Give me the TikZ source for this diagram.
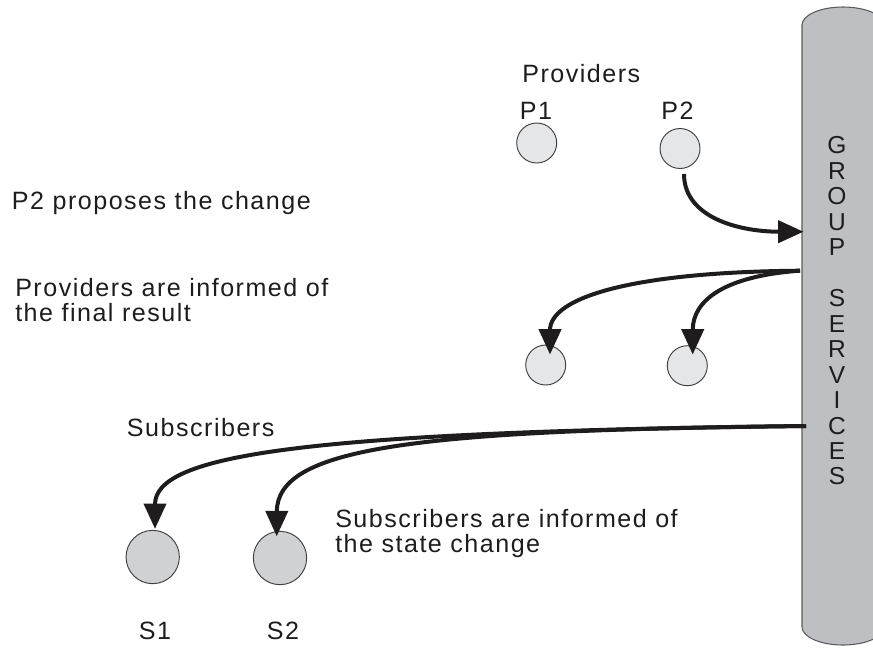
\documentclass[tikz,border=0pt]{standalone}
\usepackage{fontspec}
\setmainfont{Liberation Sans}[LetterSpace=6]
\usetikzlibrary{arrows.meta,calc}
\definecolor{cylfill}{RGB}{190,191,195}
\definecolor{cyledge}{RGB}{90,90,92}
\definecolor{pfill}{RGB}{229,230,232}
\definecolor{sfill}{RGB}{208,209,211}
\definecolor{ink}{RGB}{30,28,29}
\tikzset{
  lbl/.style={font=\fontsize{18.8pt}{18.75pt}\selectfont, inner sep=0pt, anchor=base west, align=left, text=ink},
  clbl/.style={font=\fontsize{18.8pt}{18.75pt}\selectfont, inner sep=0pt, anchor=base, text=ink},
  pcirc/.style={circle, draw=ink!85, line width=0.7pt, fill=pfill, minimum size=30pt, inner sep=0pt},
  scirc/.style={circle, draw=ink!85, line width=0.7pt, fill=sfill, minimum size=40pt, inner sep=0pt},
  flow/.style={draw=ink, line width=3pt, -{Triangle[length=19pt,width=16.5pt]}},
}
\begin{document}
\begin{tikzpicture}[x=0.75pt,y=-0.75pt]
\useasboundingbox (0,0) rectangle (873,647);
\clip (0,0) rectangle (873,647);
% group services cylinder
\fill[cylfill] (802,627) -- (802,25) arc[start angle=180,end angle=360,x radius=41,y radius=18] -- (884,627) arc[start angle=0,end angle=180,x radius=41,y radius=18] -- cycle;
\draw[cyledge,line width=0.8pt] (802,627) -- (802,25) arc[start angle=180,end angle=360,x radius=41,y radius=18] -- (884,627) arc[start angle=0,end angle=180,x radius=41,y radius=18] -- cycle;
\node[font=\fontsize{18.4pt}{19.1pt}\selectfont, align=center, inner sep=0pt, text=ink] (gs) at (837,311) {G\\R\\O\\U\\P\\[19.1pt]S\\E\\R\\V\\I\\C\\E\\S};
\coordinate (gsin) at (803.5,231.7);
\coordinate (gsout1) at (800,270.7);
\coordinate (gsout2) at (806,426);

% texts (base anchor of a two-line node is the baseline of its last line)
\node[lbl] (provt) at (522,82) {Providers};
\node[clbl] (p1l) at (536,119.5) {P1};
\node[clbl] (p2l) at (677.5,119.5) {P2};
\node[lbl] (prop) at (11.7,209.3) {P2 proposes the change};
\node[lbl] (inf1) at (15,321.5) {Providers are informed of\\the final result};
\node[lbl] (subt) at (126.7,436) {Subscribers};
\node[lbl] (inf2) at (335,552) {Subscribers are informed of\\the state change};
\node[clbl] (s1l) at (155,639) {S1};
\node[clbl] (s2l) at (283,639) {S2};

% circles
\node[pcirc] (p1) at (536.7,143) {};
\node[pcirc] (p2) at (680,148.5) {};
\node[pcirc] (q1) at (545.7,365) {};
\node[pcirc] (q2) at (687.3,365.7) {};
\node[scirc] (s1) at (152.7,557) {};
\node[scirc] (s2) at (280,558) {};

% connectors
\draw[flow] ($(p2.south)+(4,5)$) .. controls (684,218) and (740,231.7) .. (gsin);
\draw[flow] (gsout1) .. controls (630,272) and (550,298) .. ($(q1.north)+(4.3,10)$);
\draw[flow] (gsout1) .. controls (725,276) and (692.7,300) .. ($(q2.north)+(5.4,9.3)$);
\draw[flow] (gsout2) .. controls (300,432) and (155,455) .. ($(s1.north)+(2.3,-1)$);
\draw[flow] (gsout2) .. controls (410,430) and (277,448) .. ($(s2.north)+(-3.3,5.4)$);
\end{tikzpicture}
\end{document}
